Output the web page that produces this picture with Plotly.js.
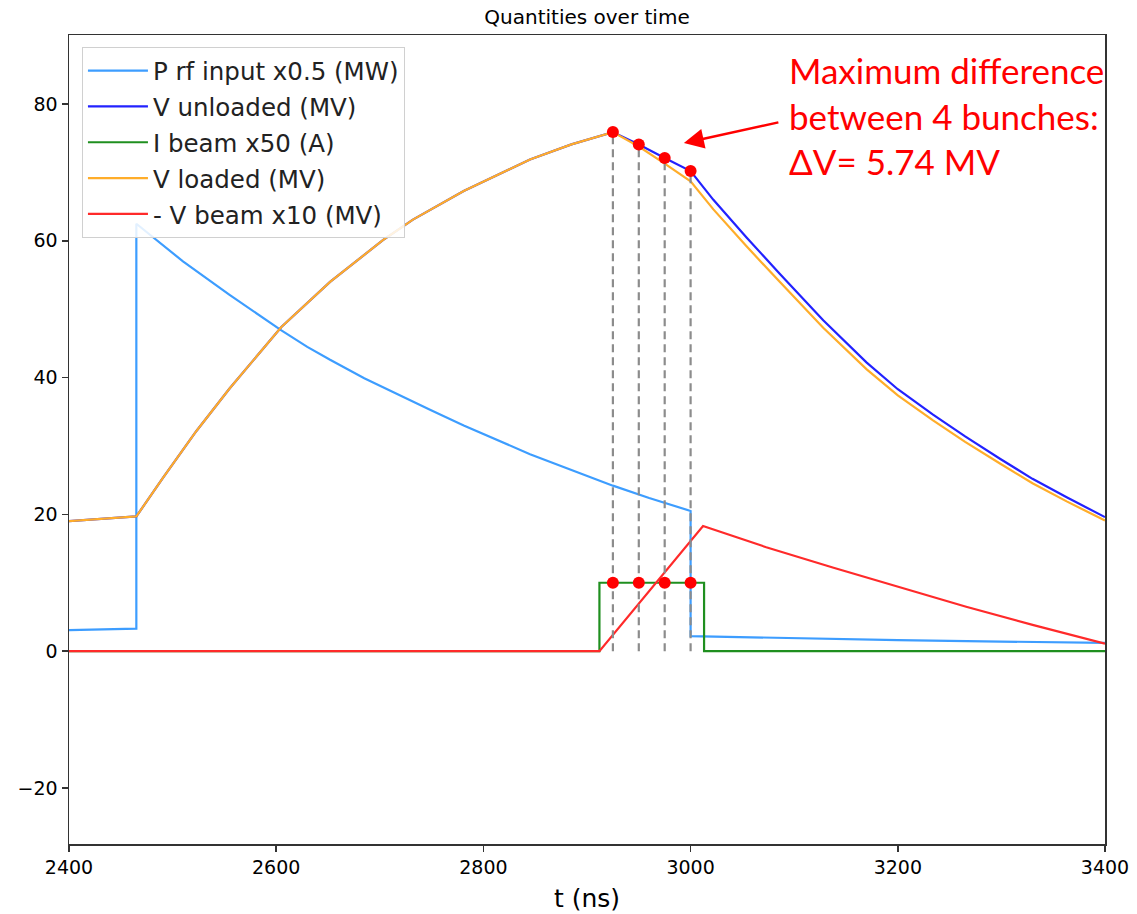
<!DOCTYPE html>
<html>
<head>
<meta charset="utf-8">
<script src="https://cdn.plot.ly/plotly-3.0.1.min.js"></script>
<style>html,body{margin:0;padding:0;background:#fff;}#chart{width:1137px;height:914px;}</style>
</head>
<body>
<div id="chart"></div>
<script>
// ---- data ----
const tPrf = [2400, 2465, 2465, 2510, 2555, 2580, 2605, 2630, 2652, 2685, 2716, 2750, 2781, 2810, 2845, 2885, 2925, 2960, 3000, 3000, 3200, 3400];
const vPrf = [3.07, 3.3, 62.5, 57.0, 52.1, 49.5, 46.9, 44.5, 42.6, 39.9, 37.6, 35.2, 33.0, 31.1, 28.8, 26.5, 24.2, 22.4, 20.5, 2.2, 1.6, 1.2];

const tVunl = [2400, 2465, 2491, 2523, 2555, 2605, 2652, 2703, 2732, 2781, 2845, 2885, 2925, 2950, 2975, 3000, 3022, 3054, 3086, 3128, 3170, 3200, 3234, 3265, 3299, 3330, 3363, 3400];
const vVunl = [19.0, 19.7, 25.4, 32.2, 38.4, 47.4, 54.0, 60.1, 63.1, 67.3, 71.9, 74.1, 75.9, 74.1, 72.1, 70.2, 66.0, 60.5, 55.2, 48.4, 42.2, 38.3, 34.6, 31.4, 28.1, 25.2, 22.5, 19.6];

const tIbeam = [2400, 2912, 2912, 3013, 3013, 3400];
const vIbeam = [0, 0, 10, 10, 0, 0];

const tVload = [2400, 2465, 2491, 2523, 2555, 2605, 2652, 2703, 2732, 2781, 2845, 2885, 2925, 2950, 2975, 3000, 3022, 3054, 3086, 3128, 3170, 3200, 3234, 3265, 3299, 3330, 3363, 3400];
const vVload = [19.0, 19.7, 25.4, 32.2, 38.4, 47.4, 54.0, 60.1, 63.1, 67.3, 71.9, 74.1, 75.9, 73.8, 71.3, 68.7, 64.6, 59.2, 54.0, 47.3, 41.2, 37.4, 33.75, 30.6, 27.4, 24.55, 21.9, 19.1];

const tVbeam = [2400, 2912, 3012, 3073, 3138, 3202, 3266, 3331, 3400];
const vVbeam = [0, 0, 18.3, 15.2, 12.2, 9.3, 6.5, 3.8, 1.1];

const bunchT = [2925, 2950, 2975, 3000];
const bunchV = [75.9, 74.1, 72.1, 70.2];
const bunchI = [10, 10, 10, 10];

const seriesNames = ['P rf input x0.5 (MW)', 'V unloaded (MV)', 'I beam x50 (A)', 'V loaded (MV)', '- V beam x10 (MV)'];
const xTicks = [2400, 2600, 2800, 3000, 3200, 3400];
const yTicks = [-20, 0, 20, 40, 60, 80];
const titleText = 'Quantities over time';
const xLabel = 't (ns)';
const noteText = 'Maximum difference<br>between 4 bunches:<br>ΔV= 5.74 MV';

// ---- traces ----
const lw = 2.2;
const dashX = [], dashY = [];
bunchT.forEach((t, i) => { dashX.push(t, t, null); dashY.push(0, bunchV[i], null); });

const traces = [
  {x: tPrf, y: vPrf, name: seriesNames[0], mode: 'lines', line: {color: '#3d9dff', width: lw}, legendgroup: 'a'},
  {x: tVunl, y: vVunl, name: seriesNames[1], mode: 'lines', line: {color: '#2222ff', width: lw}, legendgroup: 'b'},
  {x: tIbeam, y: vIbeam, name: seriesNames[2], mode: 'lines', line: {color: '#1f8f1f', width: lw}, legendgroup: 'c'},
  {x: tVload, y: vVload, name: seriesNames[3], mode: 'lines', line: {color: '#ffad2a', width: lw}, legendgroup: 'd'},
  {x: tVbeam, y: vVbeam, name: seriesNames[4], mode: 'lines', line: {color: '#ff2a2a', width: lw}, legendgroup: 'e'},
  {x: dashX, y: dashY, mode: 'lines', line: {color: '#8c8c8c', width: 2.2, dash: '8px,5px'}, showlegend: false, hoverinfo: 'skip'},
  {x: bunchT.concat(bunchT), y: bunchV.concat(bunchI), mode: 'markers', marker: {color: '#ff0000', size: 12}, showlegend: false}
];

const axisCommon = {
  showline: true, mirror: true, linecolor: '#333', linewidth: 1.5,
  ticks: 'outside', ticklen: 6, tickwidth: 1.5, tickcolor: '#333',
  showgrid: false, zeroline: false,
  tickfont: {family: 'DejaVu Sans', size: 19, color: '#000'}
};

const layout = {
  width: 1137, height: 914,
  paper_bgcolor: '#fff', plot_bgcolor: '#fff',
  margin: {l: 69, r: 32, t: 35, b: 70},
  title: {text: titleText, x: 0.5, xref: 'paper', xanchor: 'center', y: 0.981, yref: 'container', yanchor: 'middle',
          font: {family: 'DejaVu Sans', size: 20, color: '#000'}},
  xaxis: Object.assign({}, axisCommon, {range: [2400, 3400], tickvals: xTicks, automargin: false,
          title: {text: xLabel, font: {family: 'DejaVu Sans', size: 25, color: '#000'}, standoff: 12}}),
  yaxis: Object.assign({}, axisCommon, {range: [-28.2, 90.1], tickvals: yTicks, automargin: false}),
  showlegend: true,
  legend: {x: 0.0125, y: 0.985, xanchor: 'left', yanchor: 'top', bgcolor: 'rgba(255,255,255,0.85)',
           bordercolor: '#d0d0d0', borderwidth: 1, font: {family: 'DejaVu Sans', size: 24.5, color: '#222'},
           traceorder: 'grouped', tracegroupgap: 1, itemwidth: 60},
  annotations: [
    {xref: 'paper', yref: 'paper', x: 0.693, y: 0.901, xanchor: 'left', yanchor: 'middle', align: 'left',
     text: noteText, showarrow: false, font: {family: 'Lato', size: 35, color: '#ff0000'}},
    {xref: 'x', yref: 'y', x: 2993.5, y: 74.3, ax: 96, ay: -21, axref: 'pixel', ayref: 'pixel', text: '',
     showarrow: true, arrowhead: 2, arrowsize: 1.6, arrowwidth: 2.5, arrowcolor: '#ff0000', standoff: 0}
  ],
  hovermode: false
};

Plotly.newPlot('chart', traces, layout, {displayModeBar: false, staticPlot: true});
</script>
</body>
</html>
